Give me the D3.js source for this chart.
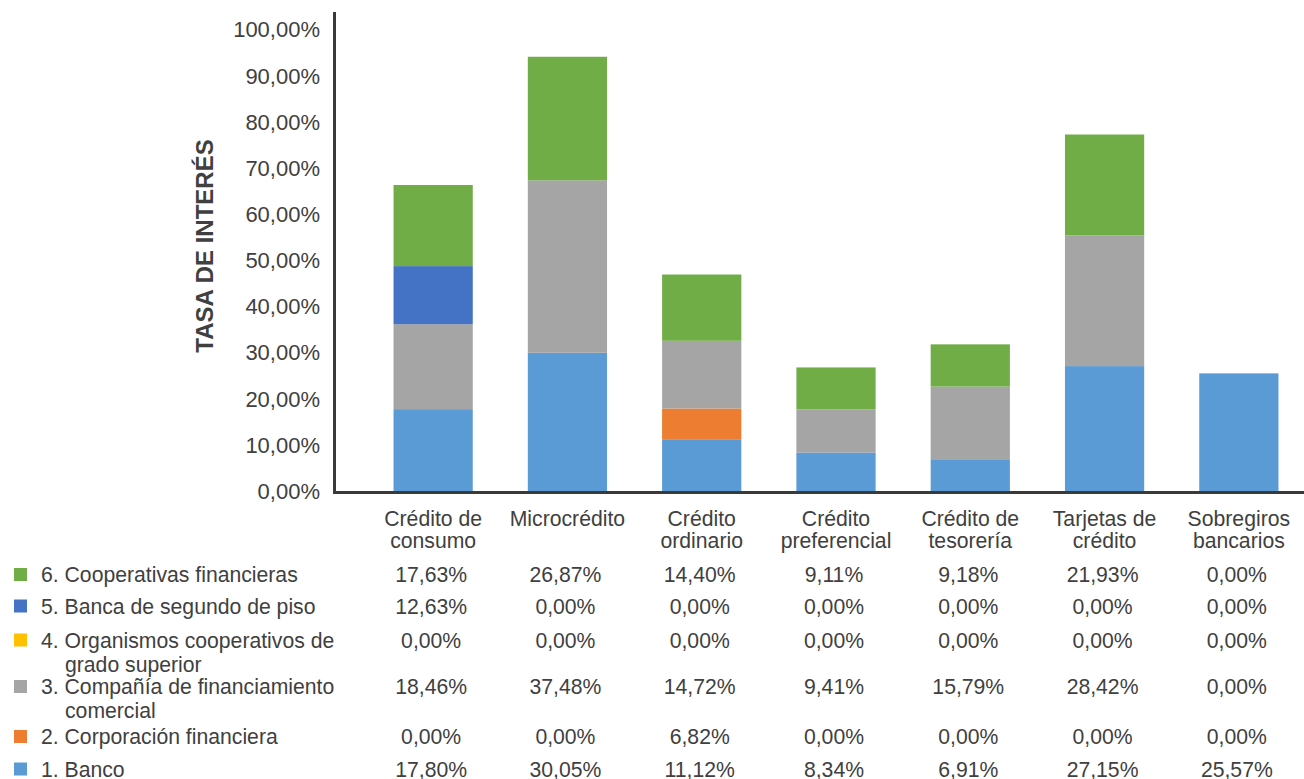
<!DOCTYPE html>
<html><head><meta charset="utf-8">
<script src="https://cdn.jsdelivr.net/npm/d3@7"></script>
<style>
html,body{margin:0;padding:0;background:#fff;overflow:hidden}
svg{display:block;font-family:"Liberation Sans",Arial,sans-serif}
</style></head>
<body><svg id="c" width="1304" height="779"></svg>
<script>
// ---- data ----
const categories = ["Crédito de\nconsumo", "Microcrédito", "Crédito\nordinario", "Crédito\npreferencial", "Crédito de\ntesorería", "Tarjetas de\ncrédito", "Sobregiros\nbancarios"];
const banco        = [17.80, 30.05, 11.12, 8.34, 6.91, 27.15, 25.57];
const corporacion  = [0.00, 0.00, 6.82, 0.00, 0.00, 0.00, 0.00];
const organismos   = [0.00, 0.00, 0.00, 0.00, 0.00, 0.00, 0.00];
const compania     = [18.46, 37.48, 14.72, 9.41, 15.79, 28.42, 0.00];
const bancaSegundo = [12.63, 0.00, 0.00, 0.00, 0.00, 0.00, 0.00];
const cooperativas = [17.63, 26.87, 14.40, 9.11, 9.18, 21.93, 0.00];
const yTicks = [0, 10, 20, 30, 40, 50, 60, 70, 80, 90, 100];
const axisTitle = "TASA DE INTERÉS";

// stacking order bottom->top
const seriesData = [
  {key:"banco", name:"1. Banco", values:banco, color:"#5B9BD5"},
  {key:"corporacion", name:"2. Corporación financiera", values:corporacion, color:"#ED7D31"},
  {key:"organismos", name:"4. Organismos cooperativos de\ngrado superior", values:organismos, color:"#FFC000"},
  {key:"compania", name:"3. Compañía de financiamiento\ncomercial", values:compania, color:"#A5A5A5"},
  {key:"bancaSegundo", name:"5. Banca de segundo de piso", values:bancaSegundo, color:"#4472C4"},
  {key:"cooperativas", name:"6. Cooperativas financieras", values:cooperativas, color:"#70AD47"}
];
// table row order (top->bottom)
const tableOrder = ["cooperativas","bancaSegundo","organismos","compania","corporacion","banco"];

const fmt = v => v.toFixed(2).replace(".", ",") + "%";
const textColor = "#404040";
const fs = 21.2;

const svg = d3.select("#c");
const x = d3.scaleBand().domain(categories).range([366, 1306]).paddingInner(0.41).paddingOuter(0.205);
const y = d3.scaleLinear().domain([0, 100]).range([491, 31]);

// stack
const rows = categories.map((c, i) => {
  const o = {cat: c};
  seriesData.forEach(s => o[s.key] = s.values[i]);
  return o;
});
const stacked = d3.stack().keys(seriesData.map(s => s.key))(rows);

svg.append("g").selectAll("g").data(stacked).join("g")
  .attr("fill", (d, i) => seriesData[i].color)
  .selectAll("rect").data(d => d).join("rect")
  .attr("x", d => x(d.data.cat))
  .attr("width", x.bandwidth())
  .attr("y", d => y(d[1]))
  .attr("height", d => Math.max(0, y(d[0]) - y(d[1])));

// y axis labels
svg.append("g").selectAll("text").data(yTicks).join("text")
  .attr("x", 320).attr("y", d => y(d) + 7.9 - (d / 100) * 1.5)
  .attr("text-anchor", "end").attr("font-size", 22).attr("fill", textColor)
  .text(d => fmt(d));

// axis lines
svg.append("line").attr("x1", 334.5).attr("x2", 334.5).attr("y1", 12).attr("y2", y(0) + 3)
  .attr("stroke", "#3a3a3a").attr("stroke-width", 3);
svg.append("line").attr("x1", 333).attr("x2", 1304).attr("y1", y(0) + 1.5).attr("y2", y(0) + 1.5)
  .attr("stroke", "#3a3a3a").attr("stroke-width", 3);

// axis title
svg.append("text").attr("transform", `translate(212.5,246) rotate(-90)`)
  .attr("text-anchor", "middle").attr("font-size", 24).attr("font-weight", "bold").attr("fill", textColor)
  .text(axisTitle);

// category labels
const catG = svg.append("g").selectAll("text").data(categories).join("text")
  .attr("text-anchor", "middle").attr("font-size", fs).attr("fill", textColor)
  .attr("x", d => x(d) + x.bandwidth() / 2).attr("y", 526);
catG.selectAll("tspan").data(d => d.split("\n")).join("tspan")
  .attr("x", function(){ return d3.select(this.parentNode).attr("x"); })
  .attr("dy", (d, i) => i === 0 ? 0 : 22)
  .text(d => d);

// table
const rowBase = [582, 613.5, 647.5, 694, 744, 776.5];
tableOrder.forEach((k, r) => {
  const s = seriesData.find(d => d.key === k);
  const base = rowBase[r];
  svg.append("rect").attr("x", 14).attr("y", base - 7.5 - 6.5).attr("width", 13).attr("height", 13).attr("fill", s.color);
  const lines = s.name.split("\n");
  const t = svg.append("text").attr("font-size", fs).attr("fill", textColor).attr("y", base);
  lines.forEach((ln, i) => {
    t.append("tspan").attr("x", i === 0 ? 41 : 65).attr("dy", i === 0 ? 0 : 24.3).text(ln);
  });
  svg.append("g").selectAll("text").data(s.values).join("text")
    .attr("x", (d, i) => x(categories[i]) + x.bandwidth() / 2 - 2)
    .attr("y", base).attr("text-anchor", "middle").attr("font-size", fs).attr("fill", textColor)
    .text(d => fmt(d));
});
</script></body></html>
